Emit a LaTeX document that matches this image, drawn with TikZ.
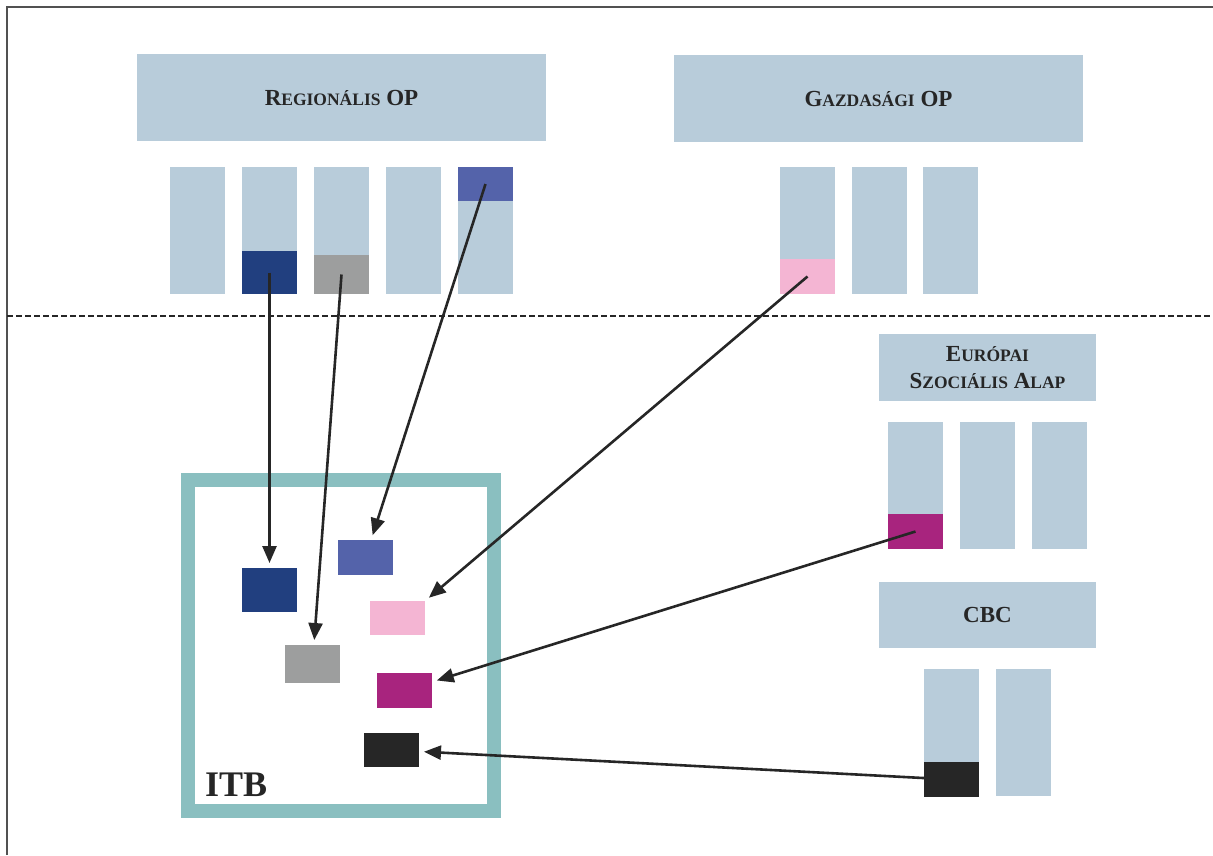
\documentclass[tikz,border=0pt]{standalone}
\usepackage{fontspec}
\setmainfont{Liberation Serif}
\usetikzlibrary{arrows.meta}
\definecolor{panel}{HTML}{B8CCDA}
\definecolor{itbteal}{HTML}{8ABFC0}
\definecolor{navy}{HTML}{213F7F}
\definecolor{steel}{HTML}{9D9E9E}
\definecolor{iris}{HTML}{5463AA}
\definecolor{blush}{HTML}{F4B5D3}
\definecolor{plum}{HTML}{A8247E}
\definecolor{ink}{HTML}{262626}
\newcommand{\capsc}[2]{{\fontsize{23}{27}\selectfont #1}{\fontsize{17.5}{27}\selectfont #2}}
\begin{document}
\begin{tikzpicture}
[
    x=1pt, y=-1pt,
    every node/.style={inner sep=0pt, outer sep=0pt, anchor=north west},
    head/.style={fill=panel, text=ink, font=\bfseries\fontsize{23}{27}\selectfont, align=center},
    bar/.style={fill=panel, minimum width=55pt, minimum height=127pt},
    chip/.style={minimum width=55pt},
    link/.style={draw=ink, line width=2.6pt, shorten >=5pt, -{Triangle[length=17pt,width=14pt]}},
]
\useasboundingbox (0,0) rectangle (1213,855);
\draw[ink!80, line width=1.5pt] (7,855) -- (7,7) -- (1213,7);

% upper half
\node[head, minimum width=409pt, minimum height=87pt] (regop) at (137,54) {\capsc{R}{EGIONÁLIS} \capsc{OP}{}};
\node[head, minimum width=409pt, minimum height=87pt] (gazop) at (674,55) {\capsc{G}{AZDASÁGI} \capsc{OP}{}};
\foreach \i/\x in {1/170,2/242,3/314,4/386,5/458}
    \node[bar] (r\i) at (\x,167) {};
\foreach \i/\x in {1/780,2/852,3/923}
    \node[bar] (g\i) at (\x,167) {};
\node[chip, fill=navy, minimum height=43pt] (rnavy) at (242,251) {};
\node[chip, fill=steel, minimum height=39pt] (rsteel) at (314,255) {};
\node[chip, fill=iris, minimum height=34pt] (riris) at (458,167) {};
\node[chip, fill=blush, minimum height=35pt] (gblush) at (780,259) {};

\draw[ink, line width=2.5pt, dash pattern=on 6pt off 3pt] (7,316) -- (1213,316);

% lower half
\node[head, minimum width=217pt, minimum height=67pt] (esa) at (879,334) {\capsc{E}{URÓPAI}\\\capsc{S}{ZOCIÁLIS} \capsc{A}{LAP}};
\foreach \i/\x in {1/888,2/960,3/1032}
    \node[bar] (e\i) at (\x,422) {};
\node[chip, fill=plum, minimum height=35pt] (eplum) at (888,514) {};
\node[head, minimum width=217pt, minimum height=66pt] (cbc) at (879,582) {\capsc{CBC}{}};
\foreach \i/\x in {1/924,2/996}
    \node[bar] (c\i) at (\x,669) {};
\node[chip, fill=ink, minimum height=35pt] (cink) at (924,762) {};

\draw[itbteal, line width=14pt] (188,480) rectangle (494,811);
\node[anchor=base west, text=ink, font=\bfseries\fontsize{36}{40}\selectfont] (itb) at (205,796) {ITB};
\node[chip, fill=navy, minimum height=44pt] (inavy) at (242,568) {};
\node[chip, fill=iris, minimum height=35pt] (iiris) at (338,540) {};
\node[chip, fill=blush, minimum height=34pt] (iblush) at (370,601) {};
\node[chip, fill=steel, minimum height=38pt] (isteel) at (285,645) {};
\node[chip, fill=plum, minimum height=35pt] (iplum) at (377,673) {};
\node[chip, fill=ink, minimum height=34pt] (iink) at (364,733) {};

\draw[link] (rnavy.center) -- (inavy);
\draw[link] (rsteel.center) -- (isteel);
\draw[link] (riris.center) -- (iiris);
\draw[link] (gblush.center) -- (iblush.north east);
\draw[link] (eplum.center) -- (iplum);
\draw[link] (cink.center) -- (iink);
\end{tikzpicture}
\end{document}
